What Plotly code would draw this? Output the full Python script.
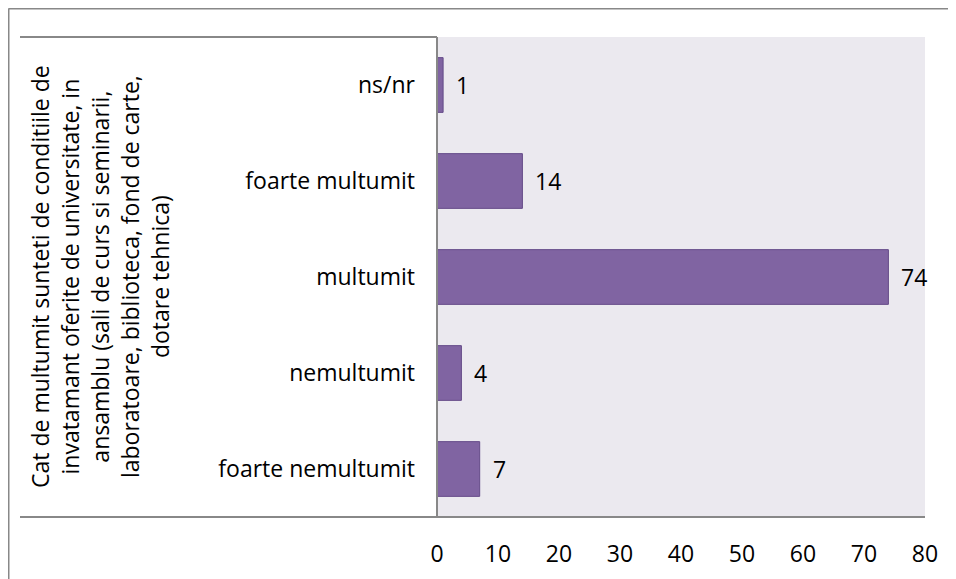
import plotly.graph_objects as go

categories = ["foarte nemultumit", "nemultumit", "multumit", "foarte multumit", "ns/nr"]
values = [7, 4, 74, 14, 1]
x_ticks = [0, 10, 20, 30, 40, 50, 60, 70, 80]
axis_title_lines = [
    "Cat de multumit sunteti de conditiile de",
    "invatamant oferite de universitate, in",
    "ansamblu (sali de curs si seminarii,",
    "laboratoare, biblioteca, fond de carte,",
    "dotare tehnica)",
]

FONT = "Open Sans, sans-serif"
FS = 23
O = 8  # browser default body margin
W, H = 956 - O, 579 - O
L, R, T, B = 437 - O, 31, 37 - O, 62

fig = go.Figure()
fig.add_trace(go.Bar(
    x=values, y=categories, orientation="h",
    width=0.57,
    marker=dict(color="#8064A2", line=dict(color="#644A88", width=1)),
    hoverinfo="skip",
))

for v, c in zip(values, categories):
    fig.add_annotation(x=v, y=c, xref="x", yref="y", text=str(v), showarrow=False,
                       xanchor="left", xshift=11, font=dict(family=FONT, size=FS, color="#000"))

def px(xp):
    return (xp - O - L) / (W - L - R)
def py(yp):
    return (H - B - (yp - O)) / (H - T - B)

fig.add_annotation(xref="paper", yref="paper", x=px(100), y=py(277),
                   text="<br>".join(axis_title_lines), textangle=-90, showarrow=False,
                   xanchor="center", yanchor="middle", align="center",
                   font=dict(family=FONT, size=FS, color="#000"))

line_col = "#888888"
shapes = [
    dict(type="line", xref="paper", yref="paper", x0=px(20), x1=px(437), y0=py(37), y1=py(37)),
    dict(type="line", xref="paper", yref="paper", x0=px(20), x1=px(925), y0=py(517), y1=py(517)),
    dict(type="line", xref="paper", yref="paper", x0=px(437), x1=px(437), y0=py(37), y1=py(517)),
    dict(type="line", xref="paper", yref="paper", x0=px(8.5), x1=px(960), y0=py(8.5), y1=py(8.5)),
    dict(type="line", xref="paper", yref="paper", x0=px(8.5), x1=px(8.5), y0=py(8.5), y1=py(585)),
]
for s in shapes:
    s["line"] = dict(color=line_col, width=2)
    s["layer"] = "above"

fig.update_layout(
    width=W, height=H,
    margin=dict(l=L, r=R, t=T, b=B, autoexpand=False),
    paper_bgcolor="white",
    plot_bgcolor="#EBE9EF",
    showlegend=False,
    font=dict(family=FONT, size=FS, color="#000"),
    shapes=shapes,
    xaxis=dict(range=[0, 80], tickvals=x_ticks, showgrid=False, zeroline=False,
               showline=False, ticks="", ticklabelstandoff=21, fixedrange=True),
    yaxis=dict(categoryorder="array", categoryarray=categories, showgrid=False,
               zeroline=False, showline=False, ticks="", ticklabelstandoff=21,
               range=[-0.5, 4.5], fixedrange=True),
)

fig.write_html("out.html")
